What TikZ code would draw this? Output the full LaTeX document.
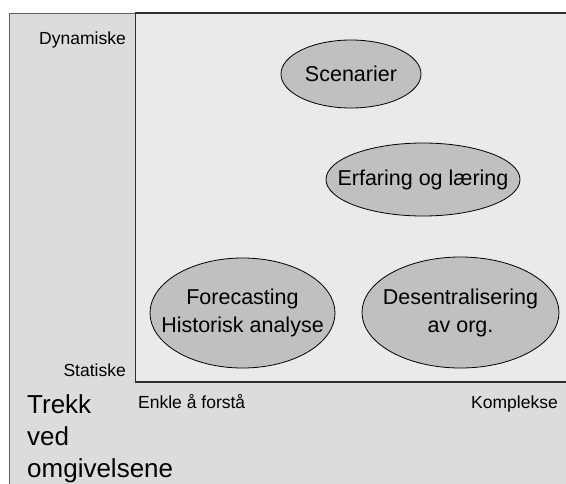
\documentclass[tikz,border=0pt]{standalone}
\usepackage{fontspec}
\setmainfont{Liberation Sans}
\usetikzlibrary{shapes.geometric}
\definecolor{outerfill}{HTML}{DCDCDC}
\definecolor{innerfill}{HTML}{EAEAEA}
\definecolor{ellfill}{HTML}{C0C0C0}
\definecolor{outerline}{HTML}{606060}
\definecolor{innerline}{HTML}{303030}
\begin{document}
\begin{tikzpicture}[x=1pt,y=-1pt,
  axislabel/.style={inner sep=0pt,font=\fontsize{17.5}{21}\selectfont},
  bigtext/.style={inner sep=0pt,align=left,font=\fontsize{26}{32}\selectfont},
  blob/.style={ellipse,draw=black,line width=0.8pt,fill=ellfill,inner sep=0pt},
  blobtext/.style={inner sep=0pt,align=center,font=\fontsize{21.5}{28}\selectfont}]
\useasboundingbox (0,0) rectangle (566,483);
\clip (0,0) rectangle (566,483);
% outer panel
\draw[fill=outerfill,draw=outerline,line width=1pt] (9,13) rectangle (580,500);
% inner plot area
\draw[fill=innerfill,draw=innerline,line width=1.2pt] (135.5,13) rectangle (580,382);
% axis labels
\node[axislabel,anchor=base east] (dyn) at (126,44) {Dynamiske};
\node[axislabel,anchor=base east] (stat) at (126,376) {Statiske};
\node[axislabel,anchor=base west] (enkle) at (138,408) {Enkle å forstå};
\node[axislabel,anchor=base east] (kompl) at (558,408) {Komplekse};
\node[bigtext,anchor=north west] (trekk) at (27,394.5) {Trekk\\ved\\omgivelsene};
% ellipses
\node[blob,minimum width=140,minimum height=68] (scen) at (351,74) {};
\node[blobtext] (scent) at (scen.center) {Scenarier};
\node[blob,minimum width=194,minimum height=73] (erf) at (423,179.5) {};
\node[blobtext] (erft) at (erf.center) {Erfaring og læring};
\node[blob,minimum width=185,minimum height=110] (fore) at (242.5,313) {};
\node[blobtext] (foret) at (fore.center) {Forecasting\\Historisk analyse};
\node[blob,minimum width=197,minimum height=111] (desen) at (460.5,312.5) {};
\node[blobtext] (desent) at (desen.center) {Desentralisering\\av org.};
\end{tikzpicture}
\end{document}
